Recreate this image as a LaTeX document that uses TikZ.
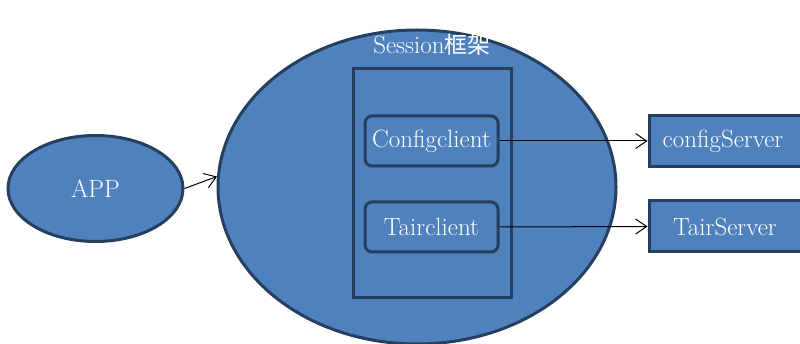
\documentclass[tikz,border=0pt]{standalone}
\usepackage{fontspec}
\newfontfamily\cjk{Noto Sans CJK SC}
\usetikzlibrary{shapes.geometric,arrows.meta}

\definecolor{caixa}{HTML}{4F81BD}
\definecolor{borda}{HTML}{243F60}

\begin{document}
\begin{tikzpicture}[
        x=1pt, y=-1pt,
        font=\fontsize{25}{29}\selectfont,
        forma/.style={
            draw=borda, fill=caixa, line width=3pt,
            text=white, inner sep=0pt
        },
        oval/.style={forma, ellipse},
        bloco/.style={forma, rectangle},
        cliente/.style={bloco, rounded corners=7pt,
            minimum width=133pt, minimum height=50pt},
        servidor/.style={bloco,
            minimum width=156pt, minimum height=51pt},
        seta/.style={-{Straight Barb[length=11pt,width=15pt]}, line width=1pt}
    ]

    \useasboundingbox (0,0) rectangle (800,344);

    % Formas principais
    \node[oval, minimum width=175pt, minimum height=106pt] (app) at (95.5,188.5) {APP};
    \node[oval, minimum width=398pt, minimum height=314pt] (sess) at (417,187) {};
    \node[text=white] (titulo) at (432,45) {Session{\cjk\fontsize{23}{27}\selectfont 框架}};

    \node[bloco, minimum width=158pt, minimum height=229pt] (quadro) at (432,183.5) {};
    \node[cliente] (cfgc) at (431.5,141) {Configclient};
    \node[cliente] (tairc) at (431.5,227) {Tairclient};

    % Servidores (cortados na borda)
    \node[servidor] (cfgs) at (727,141) {\hspace*{-4pt}configServer\hspace*{4pt}};
    \node[servidor] (tairs) at (727,226.5) {TairServer\hspace*{4pt}};

    % Ligações
    \draw[seta] (app.east) -- (sess.177);
    \draw[seta] (cfgc.east) -- (cfgs.west);
    \draw[seta] (tairc.east) -- (tairs.west);

\end{tikzpicture}
\end{document}
